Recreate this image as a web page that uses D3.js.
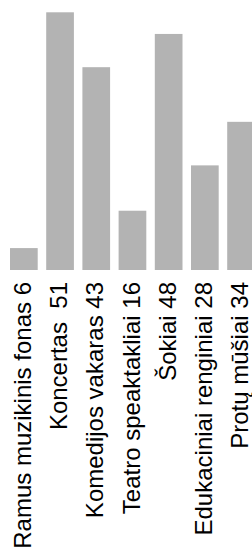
<!DOCTYPE html>
<html>
<head>
<meta charset="utf-8">
<script src="https://cdn.jsdelivr.net/npm/d3@7"></script>
<style>
  html, body { margin: 0; padding: 0; background: #fff; overflow: hidden; }
  text { white-space: pre; }
</style>
</head>
<body>
<script>
// categories and the counts written in the labels
const categories = ["Ramus muzikinis fonas", "Koncertas ", "Komedijos vakaras", "Teatro speaktakliai", "Šokiai", "Edukaciniai renginiai", "Protų mūšiai"];
const counts = [6, 51, 43, 16, 48, 28, 34];
// bar heights (% of the tallest bar)
const barValues = [8.5, 100, 78.7, 23, 91.6, 40.6, 57.5];

const width = 252, height = 550;
const baseY = 270;

const svg = d3.select("body").append("svg")
    .attr("width", width)
    .attr("height", height);

const x = d3.scaleBand()
    .domain(categories)
    .range([1.5, 263.4])
    .paddingInner(0.235)
    .paddingOuter(0.235);

const y = d3.scaleLinear()
    .domain([0, 100])
    .range([baseY, 12.3]);

svg.append("g").selectAll("rect")
    .data(categories)
    .join("rect")
    .attr("x", d => x(d))
    .attr("y", (d, i) => y(barValues[i]))
    .attr("width", x.bandwidth())
    .attr("height", (d, i) => baseY - y(barValues[i]))
    .attr("fill", "#b3b3b3");

svg.append("g").selectAll("text")
    .data(categories)
    .join("text")
    .attr("transform", d => `translate(${x(d) + x.bandwidth() / 2},${baseY + 12}) rotate(-90)`)
    .attr("text-anchor", "end")
    .attr("dy", "0.3em")
    .attr("font-family", "Liberation Sans, Arial, sans-serif")
    .attr("font-size", 24)
    .attr("fill", "#000")
    .text((d, i) => d + " " + counts[i]);
</script>
</body>
</html>
